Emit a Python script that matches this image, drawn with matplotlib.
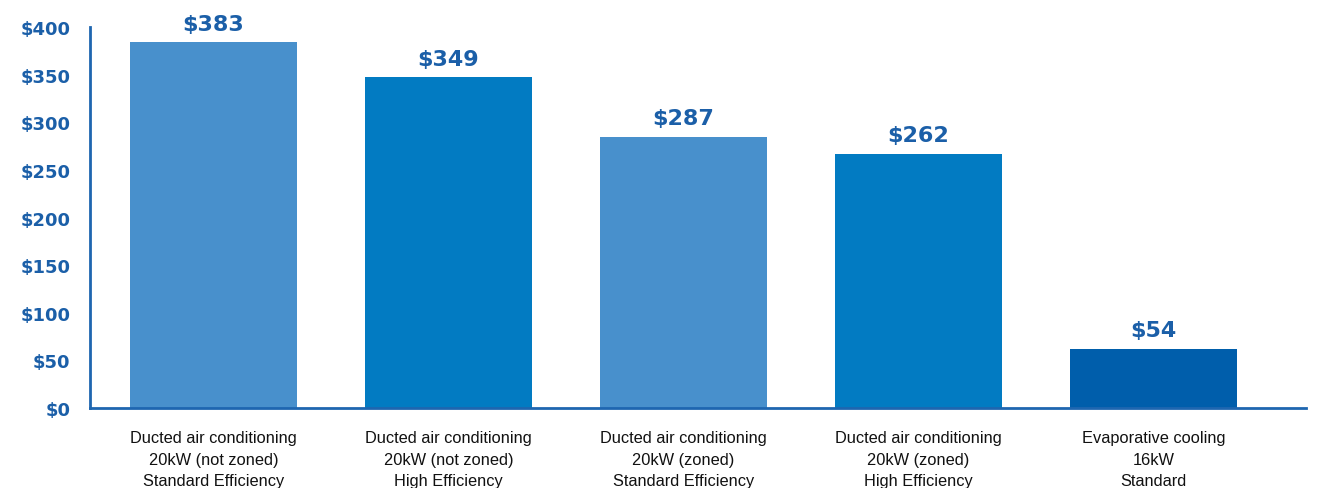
import matplotlib
matplotlib.use("Agg")
import matplotlib.pyplot as plt
from matplotlib import font_manager

categories = [
    "Ducted air conditioning\n20kW (not zoned)\nStandard Efficiency",
    "Ducted air conditioning\n20kW (not zoned)\nHigh Efficiency",
    "Ducted air conditioning\n20kW (zoned)\nStandard Efficiency",
    "Ducted air conditioning\n20kW (zoned)\nHigh Efficiency",
    "Evaporative cooling\n16kW\nStandard",
]
value_labels = [383, 349, 287, 262, 54]
bar_heights = [384, 347, 285, 267, 62]
yticks = [0, 50, 100, 150, 200, 250, 300, 350, 400]
ytick_labels = ["$0", "$50", "$100", "$150", "$200", "$250", "$300", "$350", "$400"]
colors = ["#4890CC", "#027BC2", "#4890CC", "#027BC2", "#005EAB"]

text_blue = "#1B5FA8"
names = {f.name for f in font_manager.fontManager.ttflist}
narrow = "Liberation Sans Narrow" if "Liberation Sans Narrow" in names else "Liberation Sans"

fig = plt.figure(figsize=(13.21, 4.89), dpi=100)
ax = fig.add_axes([90 / 1321, 1 - 409 / 489, (1306 - 90) / 1321, (409 - 28) / 489])

x = list(range(len(categories)))
ax.bar(x, bar_heights, width=0.71, color=colors, zorder=2)
for xi, h, v in zip(x, bar_heights, value_labels):
    ax.text(xi, h + 9, f"${v}", ha="center", va="bottom", fontsize=16,
            fontweight="bold", color=text_blue, family="DejaVu Sans")

ax.set_xlim(-0.525, 4.65)
ax.set_ylim(0, 400)
ax.set_yticks(yticks)
ax.set_yticklabels(ytick_labels, fontsize=13, fontweight="bold", color=text_blue,
                   family="DejaVu Sans")
ax.set_xticks(x)
ax.set_xticklabels(categories, fontsize=11.8, color="#111111", family=narrow,
                   linespacing=1.55, va="top")
ax.tick_params(axis="y", length=0, pad=14)
ax.tick_params(axis="x", length=0, pad=16)
for s in ["top", "right"]:
    ax.spines[s].set_visible(False)
for s in ["left", "bottom"]:
    ax.spines[s].set_color("#1E66B0")
    ax.spines[s].set_linewidth(2)

fig.savefig("out.png", dpi=100)
